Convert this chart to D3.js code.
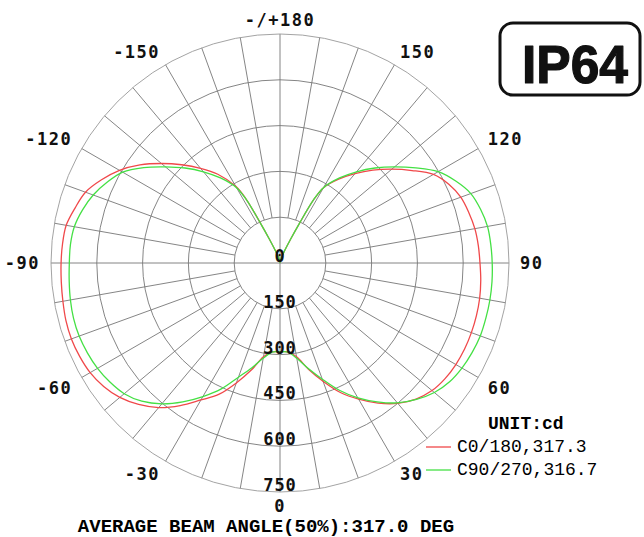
<!DOCTYPE html>
<html>
<head>
<meta charset="utf-8">
<script src="https://cdn.jsdelivr.net/npm/d3@7"></script>
<style>
  body { margin: 0; background: #fff; }
  svg { display: block; }
</style>
</head>
<body>
<div id="chart"></div>
<script>
'use strict';

// angles in degrees: 0 = down, +90 = right, +/-180 = up
// (denser near the top, where the curves dive into the centre)
let angles = [-180, -170, -160, -156, -154, -152, -150]
    .concat(d3.range(-145, 146, 5), [150, 152, 154, 156, 160, 170, 180]);

// C0/180 curve (red), cd
let c0 = [
    0, 10, 40, 85, 140, 240, 290,
    355, 405, 455, 507, 560, 607, 645, 678, 695, 711, 715, 717, 719, 722, 726,
    727, 724, 718, 705, 685, 655, 618, 570, 518, 475, 418, 363, 312, 292,
    291,
    292, 312, 360, 412, 468, 515, 560, 600, 630, 650, 660, 665, 667, 667, 666,
    664, 660, 655, 652, 648, 640, 630, 610, 580, 528, 478, 430, 382, 335,
    285, 235, 140, 85, 40, 10, 0
];

// C90/270 curve (green), cd
let c90 = [
    0, 10, 40, 85, 140, 235, 285,
    340, 390, 440, 490, 545, 595, 625, 651, 670, 684, 689, 690, 693, 697, 700,
    700, 696, 690, 680, 666, 640, 602, 555, 505, 455, 398, 355, 317, 293,
    291,
    293, 317, 358, 405, 460, 510, 555, 598, 632, 660, 678, 688, 694, 698, 698,
    698, 697, 695, 693, 690, 680, 665, 635, 598, 543, 490, 440, 390, 340,
    285, 235, 140, 85, 40, 10, 0
];

let ringValues = [0, 150, 300, 450, 600, 750];
let angleLabels = [0, 30, 60, 90, 120, 150, 180, -150, -120, -90, -60, -30];
let angleText = ['0', '30', '60', '90', '120', '150', '-/+180', '-150', '-120', '-90', '-60', '-30'];
let seriesNames = ['C0/180,317.3', 'C90/270,316.7'];
let seriesColors = ['#f0484a', '#44e044'];

let width = 644, height = 537;
let cx = 280, cy = 263, R = 229;

let svg = d3.select('#chart').append('svg')
    .attr('width', width)
    .attr('height', height);

let r = d3.scaleLinear()
    .domain([0, 750])
    .range([0, R]);

function rad(a) {
    return (180 - a) * Math.PI / 180;
}

let g = svg.append('g')
    .attr('transform', 'translate(' + cx + ',' + cy + ')');

// spokes every 10 degrees, starting at the first ring
let spokes = d3.range(0, 360, 10);
g.selectAll('line.spoke')
    .data(spokes)
    .enter()
    .append('line')
        .attr('class', 'spoke')
        .attr('x1', (a) => (a % 90 === 0 ? 0 : r(150)) * Math.sin(rad(a)))
        .attr('y1', (a) => -(a % 90 === 0 ? 0 : r(150)) * Math.cos(rad(a)))
        .attr('x2', (a) => R * Math.sin(rad(a)))
        .attr('y2', (a) => -R * Math.cos(rad(a)))
        .attr('stroke', '#777')
        .attr('stroke-width', 0.9);

g.selectAll('circle.ring')
    .data(ringValues.slice(1))
    .enter()
    .append('circle')
        .attr('class', 'ring')
        .attr('r', (v) => r(v))
        .attr('fill', 'none')
        .attr('stroke', (v) => v === 750 ? '#999' : '#777')
        .attr('stroke-width', 0.9);

// curves
let line = d3.lineRadial()
    .angle((d) => rad(d[0]))
    .radius((d) => r(d[1]))
    .curve(d3.curveCatmullRom);

[c0, c90].forEach((vals, i) => {
    g.append('path')
        .datum(angles.map((a, j) => [a, vals[j]]))
        .attr('d', line)
        .attr('fill', 'none')
        .attr('stroke', seriesColors[i])
        .attr('stroke-width', 1.3);
});

// ring labels
g.selectAll('text.ring')
    .data(ringValues)
    .enter()
    .append('text')
        .attr('class', 'ring')
        .attr('x', 0)
        .attr('y', (v) => r(v) - 1)
        .attr('text-anchor', 'middle')
        .attr('font-family', 'DejaVu Sans Mono')
        .attr('font-weight', 'bold')
        .attr('font-size', 17)
        .attr('letter-spacing', 1)
        .attr('fill', '#111')
        .text((v) => v);

// angle labels: the label box corner nearest the centre sits on a circle
let labelR = 237;
function sgn(v) {
    return Math.abs(v) < 1e-6 ? 0 : Math.sign(v);
}
g.selectAll('text.ang')
    .data(angleLabels)
    .enter()
    .append('text')
        .attr('class', 'ang')
        .attr('text-anchor', 'middle')
        .attr('font-family', 'DejaVu Sans Mono')
        .attr('font-weight', 'bold')
        .attr('font-size', 17)
        .attr('letter-spacing', 1.5)
        .attr('fill', '#111')
        .attr('x', function(a, i) {
            let w = angleText[i].length * 11.7;
            let s = Math.sin(a * Math.PI / 180);
            return (labelR + 3) * s + sgn(s) * w / 2;
        })
        .attr('y', function(a) {
            let c = Math.cos(a * Math.PI / 180);
            return labelR * c + sgn(c) * 6 + 6;
        })
        .text((a, i) => angleText[i]);

// legend
let legend = svg.append('g');
legend.append('text')
    .attr('x', 488)
    .attr('y', 429)
    .attr('font-family', 'Liberation Mono')
    .attr('font-weight', 'bold')
    .attr('font-size', 18)
    .text('UNIT:cd');

seriesNames.forEach((name, i) => {
    legend.append('line')
        .attr('x1', 426)
        .attr('x2', 451)
        .attr('y1', 447 + i * 23)
        .attr('y2', 447 + i * 23)
        .attr('stroke', seriesColors[i])
        .attr('stroke-width', 1.3);
    legend.append('text')
        .attr('x', 457)
        .attr('y', 452 + i * 23)
        .attr('font-family', 'Liberation Mono')
        .attr('font-size', 18)
        .text(name);
});

// title
svg.append('text')
    .attr('x', 266)
    .attr('y', 532)
    .attr('text-anchor', 'middle')
    .attr('font-family', 'Liberation Mono')
    .attr('font-weight', 'bold')
    .attr('font-size', 19)
    .text('AVERAGE BEAM ANGLE(50%):317.0 DEG');

// IP64 badge
svg.append('rect')
    .attr('x', 500)
    .attr('y', 23)
    .attr('width', 140)
    .attr('height', 72)
    .attr('rx', 13)
    .attr('fill', '#fff')
    .attr('stroke', '#111')
    .attr('stroke-width', 3);

svg.append('text')
    .attr('x', 575)
    .attr('y', 83)
    .attr('text-anchor', 'middle')
    .attr('font-family', 'Liberation Sans')
    .attr('font-weight', 'bold')
    .attr('font-size', 54)
    .attr('textLength', 106)
    .attr('lengthAdjust', 'spacingAndGlyphs')
    .attr('fill', '#111')
    .attr('stroke', '#111')
    .attr('stroke-width', 1.2)
    .attr('stroke-linejoin', 'round')
    .text('IP64');
</script>
</body>
</html>
